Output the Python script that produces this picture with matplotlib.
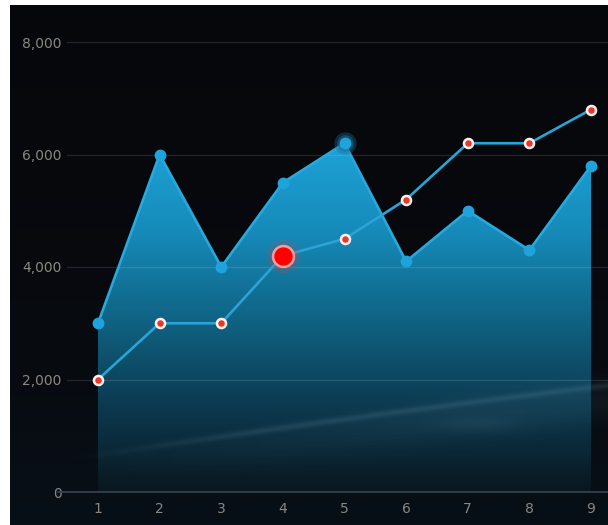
import numpy as np
import matplotlib
matplotlib.use("Agg")
import matplotlib.pyplot as plt
from matplotlib.patches import Polygon
from matplotlib.colors import LinearSegmentedColormap
from matplotlib.ticker import FuncFormatter

# data
x_vals = [1, 2, 3, 4, 5, 6, 7, 8, 9]
area_series = [3000, 6000, 4000, 5500, 6200, 4100, 5000, 4300, 5800]
line_series = [2000, 3000, 3000, 4200, 4500, 5200, 6200, 6200, 6800]
y_ticks = [0, 2000, 4000, 6000, 8000]
highlight_area_idx = 4
highlight_line_idx = 3

W, H = 608, 525
fig = plt.figure(figsize=(W / 100, H / 100), dpi=100, facecolor="white")

# dark backdrop
bg_rect = [10 / W, 0, (W - 10) / W, (H - 5) / H]
bg = fig.add_axes(bg_rect)
bg.set_axis_off()
ny, nx = 260, 300
yy, xx = np.mgrid[0:1:ny * 1j, 0:1:nx * 1j]
base_top = np.array([0.027, 0.031, 0.047])
base_bot = np.array([0.031, 0.063, 0.090])
t = yy[..., None] ** 2.4
img = base_top * (1 - t) + base_bot * t
bg.imshow(np.clip(img, 0, 1), aspect="auto", extent=[0, 1, 1, 0], interpolation="bicubic")
bg.set_xlim(0, 1)
bg.set_ylim(1, 0)

# main plotting axes
px_per_unit = 56.25 / 1000
x0_px, step_px = 98, (591 - 98) / 8
left_px, right_px, top_px, bot_px = 67, 608, 5, 492
ax = fig.add_axes([left_px / W, (H - bot_px) / H, (right_px - left_px) / W, (bot_px - top_px) / H])
ax.set_facecolor("none")
xlim = (1 - (x0_px - left_px) / step_px, 9 + (right_px - 591) / step_px)
ylim = (0, 8000 + (42 - top_px) / px_per_unit)
ax.set_xlim(*xlim)
ax.set_ylim(*ylim)

# gradient-filled area
cmap = LinearSegmentedColormap.from_list(
    "fill", ["#09171f", "#0c3a50", "#106485", "#168bba", "#1da2d6"])
ymax = max(area_series)
grad = np.linspace(0, 1, 256).reshape(-1, 1)
im = ax.imshow(grad, cmap=cmap, aspect="auto", origin="lower",
               extent=[x_vals[0], x_vals[-1], 0, ymax], zorder=1, interpolation="bicubic")
poly_pts = [(x_vals[0], 0)] + list(zip(x_vals, area_series)) + [(x_vals[-1], 0)]
poly = Polygon(poly_pts, closed=True, facecolor="none", edgecolor="none")
ax.add_patch(poly)
im.set_clip_path(poly)

# faint horizon haze across the lower part (pixel-space layout over the axes)
hy_n, hx_n = 300, 400
hyy, hxx = np.mgrid[0:1:hy_n * 1j, 0:1:hx_n * 1j]
px_x = left_px + hxx * (right_px - left_px)
px_y = top_px + hyy * (bot_px - top_px)
streak_y = 452 - (px_x - 110) * (67 / 490) + 0.00003 * (px_x - 350) ** 2
streak = np.exp(-((px_y - streak_y) / 3.0) ** 2) * np.clip((px_x - 60) / 200, 0, 1)
broad = np.exp(-((px_y - streak_y - 14) / 22.0) ** 2) * np.clip((px_x - 80) / 400, 0, 1)
wisp = np.exp(-((px_x - 480) / 40.0) ** 2 - ((px_y - 425) / 8.0) ** 2)
alpha = np.clip(0.15 * streak + 0.07 * broad + 0.06 * wisp, 0, 1)
rgba = np.zeros((hy_n, hx_n, 4))
rgba[..., 0] = 0.55
rgba[..., 1] = 0.68
rgba[..., 2] = 0.78
rgba[..., 3] = alpha
ax.imshow(rgba, aspect="auto", extent=[xlim[0], xlim[1], ylim[0], ylim[1]],
          origin="upper", interpolation="bicubic", zorder=1.5)
ax.set_xlim(*xlim)
ax.set_ylim(*ylim)

# gridlines
for yv in y_ticks[1:]:
    ax.axhline(yv, color="white", lw=1.0, alpha=0.11, zorder=2)
ax.axhline(0, xmin=-9 / (right_px - left_px), color="#3a4452", lw=1.2, zorder=2, clip_on=False)

# area outline and markers
ax.plot(x_vals, area_series, color="#28a8dc", lw=1.9, zorder=3, solid_joinstyle="miter")
hx, hy = x_vals[highlight_area_idx], area_series[highlight_area_idx]
ax.plot(hx, hy, "o", color="#1a6d96", ms=16, alpha=0.35, mew=0, zorder=4)
ax.plot(hx, hy, "o", color="#1a6d96", ms=12, alpha=0.5, mew=0, zorder=4)
ax.plot(x_vals, area_series, "o", color="#1fa3dc", ms=7.5, mec="#1fa3dc", zorder=5)

# line series
ax.plot(x_vals, line_series, color="#2aa3d6", lw=1.9, zorder=4)
ax.plot(x_vals, line_series, "o", ms=6.5, mfc="#e8372c", mec="#fff1ea", mew=1.8, zorder=6)
lx, ly = x_vals[highlight_line_idx], line_series[highlight_line_idx]
ax.plot(lx, ly, "o", ms=24, color="#ff3030", alpha=0.16, mew=0, zorder=6)
ax.plot(lx, ly, "o", ms=15, mfc="#ff0000", mec="#ff9a9a", mew=1.8, zorder=7)

# axes styling
for s in ax.spines.values():
    s.set_visible(False)
ax.set_yticks(y_ticks)
ax.yaxis.set_major_formatter(FuncFormatter(lambda v, p: f"{int(v):,}"))
ax.set_xticks(x_vals)
ax.tick_params(axis="y", length=0, pad=4, labelsize=10, labelcolor="#8a8780")
ax.tick_params(axis="x", length=0, pad=7, labelsize=10, labelcolor="#8a8780")

fig.savefig("out.png", dpi=100, facecolor="white")
